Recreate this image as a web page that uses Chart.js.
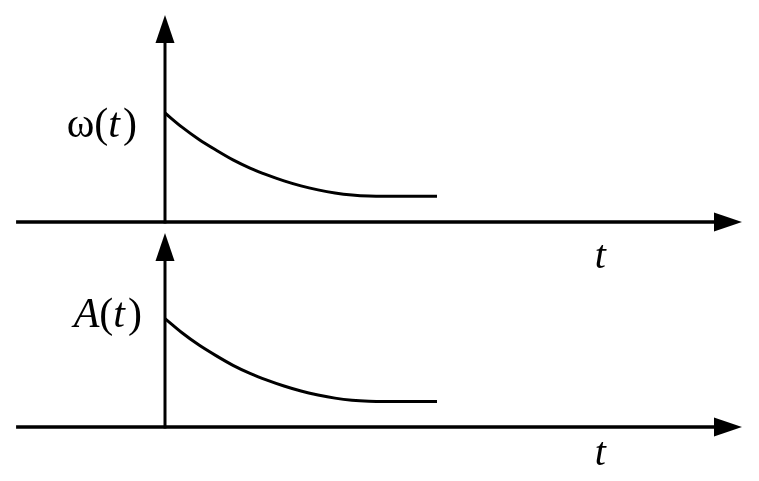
<!DOCTYPE html>
<html><head><meta charset="utf-8">
<script src="https://cdn.jsdelivr.net/npm/chart.js@4"></script>
<style>
html,body{margin:0;padding:0;background:#fff;width:759px;height:481px;overflow:hidden}
.layer{position:absolute;left:0;top:0;width:759px;height:481px}
</style></head><body>
<div class="layer"><canvas id="c1"></canvas></div>
<div class="layer"><canvas id="c2"></canvas></div>
<script>
// ---- data ----
const timePoints = [0, 0.5, 1, 1.5, 2, 2.5, 3, 3.5, 4, 4.5, 5, 5.5, 6, 6.5, 8];
const omegaValues = [1.0, 0.87, 0.757, 0.66, 0.57, 0.495, 0.432, 0.377, 0.331, 0.295, 0.267, 0.248, 0.238, 0.236, 0.236];
const ampValues = [0.995, 0.865, 0.752, 0.655, 0.566, 0.492, 0.43, 0.376, 0.33, 0.294, 0.265, 0.246, 0.237, 0.235, 0.235];
const panelLabels = ['ω(t)', 'A(t)'];
const timeAxisLabel = 't';

// draws the arrowed axes and the labels from the scales
const axesPlugin = {
  id: 'arrowAxes',
  beforeDatasetsDraw(chart, args, o) {
    const ctx = chart.ctx, xs = chart.scales.x, ys = chart.scales.y;
    const x0 = xs.getPixelForValue(0), y0 = ys.getPixelForValue(0);
    const xL = xs.getPixelForValue(o.xStart), xT = xs.getPixelForValue(o.xEnd);
    const yT = ys.getPixelForValue(o.yEnd);
    const L = 28, H = 9.5;
    ctx.save();
    ctx.fillStyle = '#000'; ctx.strokeStyle = '#000';
    // horizontal
    ctx.lineWidth = 3.5;
    ctx.beginPath(); ctx.moveTo(xL, y0); ctx.lineTo(xT - L + 2, y0); ctx.stroke();
    ctx.beginPath(); ctx.moveTo(xT, y0); ctx.lineTo(xT - L, y0 - H); ctx.lineTo(xT - L, y0 + H); ctx.closePath(); ctx.fill();
    // vertical
    ctx.lineWidth = 3;
    ctx.beginPath(); ctx.moveTo(x0, y0 + 1.5); ctx.lineTo(x0, yT + L - 2); ctx.stroke();
    ctx.beginPath(); ctx.moveTo(x0, yT); ctx.lineTo(x0 - H, yT + L); ctx.lineTo(x0 + H, yT + L); ctx.closePath(); ctx.fill();
    // panel label
    drawMixed(ctx, o.label, x0 - o.labelGap, ys.getPixelForValue(o.labelY), o.fontSize, 'right');
    // time label
    drawMixed(ctx, timeAxisLabel, xs.getPixelForValue(o.tX), ys.getPixelForValue(o.tY), o.tSize, 'center');
    ctx.restore();
  }
};

function drawMixed(ctx, text, x, y, size, align) {
  const parts = [...text].map(ch => ({ch, it: /[A-Za-z]/.test(ch)}));
  const fontOf = p => (p.it ? 'italic ' : '') + size + 'px "Liberation Serif", "Times New Roman", serif';
  let w = 0;
  parts.forEach(p => { ctx.font = fontOf(p); p.w = ctx.measureText(p.ch).width + (p.ch === 't' && text.length > 1 ? 3 : 0); w += p.w; });
  let cx = align === 'right' ? x - w : align === 'center' ? x - w / 2 : x;
  ctx.textBaseline = 'alphabetic'; ctx.textAlign = 'left';
  parts.forEach(p => { ctx.font = fontOf(p); ctx.fillText(p.ch, cx, y); cx += p.w; });
}

function makeChart(id, values, yMin, yMax, extra) {
  return new Chart(document.getElementById(id), {
    type: 'line',
    data: {
      datasets: [{
        data: timePoints.map((t, i) => ({x: t, y: values[i]})),
        borderColor: '#000', borderWidth: 3, pointRadius: 0,
        fill: false, cubicInterpolationMode: 'monotone'
      }]
    },
    options: {
      responsive: true, maintainAspectRatio: false, animation: false,
      layout: {padding: 0},
      events: [],
      scales: {
        x: {type: 'linear', display: false, min: -165 / 34, max: 594 / 34},
        y: {type: 'linear', display: false, min: yMin, max: yMax}
      },
      plugins: {
        legend: {display: false}, tooltip: {enabled: false},
        arrowAxes: Object.assign({xStart: -4.38, xEnd: 16.97, fontSize: 42, tSize: 40}, extra)
      }
    },
    plugins: [axesPlugin]
  });
}

makeChart('c1', omegaValues, -259 / 109, 222 / 109,
  {yEnd: 207 / 109, label: panelLabels[0], labelGap: 28, labelY: 1 - 24 / 109, tX: 12.8, tY: -46 / 109});
makeChart('c2', ampValues, -54 / 109, 427 / 109,
  {yEnd: 194 / 109, label: panelLabels[1], labelGap: 23, labelY: 100 / 109, tX: 12.8, tY: -38 / 109});
</script>
</body></html>
